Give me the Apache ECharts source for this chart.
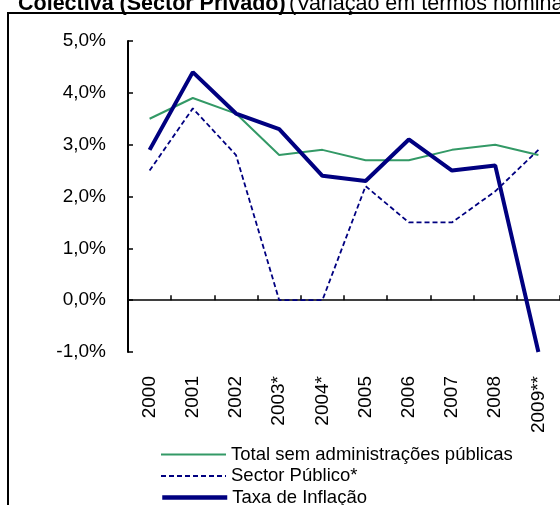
<!DOCTYPE html>
<html>
<head>
<meta charset="utf-8">
<script src="https://cdn.jsdelivr.net/npm/echarts@6/dist/echarts.min.js"></script>
<style>
  html, body { margin: 0; padding: 0; background: #fff; }
  #chart { width: 560px; height: 505px; }
</style>
</head>
<body>
<div id="chart"></div>
<script>
// values (percent)
const years = ['2000', '2001', '2002', '2003*', '2004*', '2005', '2006', '2007', '2008', '2009**'];
const totalSemAP = [3.5, 3.9, 3.6, 2.8, 2.9, 2.7, 2.7, 2.9, 3.0, 2.8];
const sectorPublico = [2.5, 3.7, 2.8, 0.0, 0.0, 2.2, 1.5, 1.5, 2.1, 2.9];
const inflacao = [2.9, 4.4, 3.6, 3.3, 2.4, 2.3, 3.1, 2.5, 2.6, -1.0];
const seriesNames = ['Total sem administrações públicas', 'Sector Público*', 'Taxa de Inflação'];

const font = 'Arial, "Liberation Sans", sans-serif';

const lineStyles = [
    { color: '#339966', width: 2, type: 'solid' },
    { color: '#000080', width: 1.8, type: [5, 3] },
    { color: '#000080', width: 4, type: 'solid' }
];

// one legend per row, Excel style stacked list
const legendTops = [445, 466.5, 488];
const legends = seriesNames.map((name, i) => ({
    left: 160,
    top: legendTops[i],
    padding: 0,
    itemWidth: 65,
    itemHeight: 14,
    itemStyle: { opacity: 0 },
    lineStyle: { width: i === 2 ? 4.5 : 2, type: lineStyles[i].type },
    textStyle: { fontFamily: font, fontSize: 18.5, color: '#000', lineHeight: 14 },
    data: [name]
}));

const chart = echarts.init(document.getElementById('chart'));

chart.setOption({
    animation: false,
    backgroundColor: '#fff',
    graphic: [
        {
            type: 'rect',
            shape: { x: 8, y: 13, width: 700, height: 700 },
            style: { fill: 'none', stroke: '#000', lineWidth: 2 }
        },
        {
            type: 'text',
            left: 18,
            top: -7,
            style: {
                text: '{b|Colectiva (Sector Privado)} {n|(Variação em termos nominais)}',
                rich: {
                    b: { fontFamily: font, fontSize: 21.5, fontWeight: 'bold', fill: '#000' },
                    n: { fontFamily: font, fontSize: 21.5, fill: '#000' }
                }
            }
        }
    ],
    grid: { left: 128, top: 41, width: 433, height: 311 },
    legend: legends,
    xAxis: [
        {
            type: 'category',
            data: years,
            position: 'bottom',
            boundaryGap: true,
            axisLine: { show: false, onZero: false },
            axisTick: { show: false },
            axisLabel: { rotate: 90, margin: 24, fontFamily: font, fontSize: 19, color: '#000', interval: 0 }
        },
        {
            type: 'category',
            data: years,
            position: 'bottom',
            boundaryGap: true,
            axisLine: { show: true, onZero: true, lineStyle: { color: '#000', width: 1.5 } },
            axisTick: { show: true, inside: true, length: 5, interval: 0, lineStyle: { color: '#000', width: 1.5 } },
            axisLabel: { show: false }
        }
    ],
    yAxis: {
        type: 'value',
        min: -1,
        max: 5,
        interval: 1,
        axisLine: { show: true, lineStyle: { color: '#000', width: 2 } },
        axisTick: { show: true, inside: true, length: 5, lineStyle: { color: '#000', width: 1.5 } },
        splitLine: { show: false },
        axisLabel: {
            margin: 22,
            fontFamily: font,
            fontSize: 19,
            color: '#000',
            formatter: v => v.toFixed(1).replace('.', ',') + '%'
        }
    },
    series: [
        {
            name: seriesNames[0],
            type: 'line',
            data: totalSemAP,
            symbol: 'none',
            color: lineStyles[0].color,
            lineStyle: lineStyles[0]
        },
        {
            name: seriesNames[1],
            type: 'line',
            data: sectorPublico,
            symbol: 'none',
            color: lineStyles[1].color,
            lineStyle: lineStyles[1]
        },
        {
            name: seriesNames[2],
            type: 'line',
            data: inflacao,
            symbol: 'none',
            color: lineStyles[2].color,
            lineStyle: lineStyles[2]
        }
    ]
});
</script>
</body>
</html>
